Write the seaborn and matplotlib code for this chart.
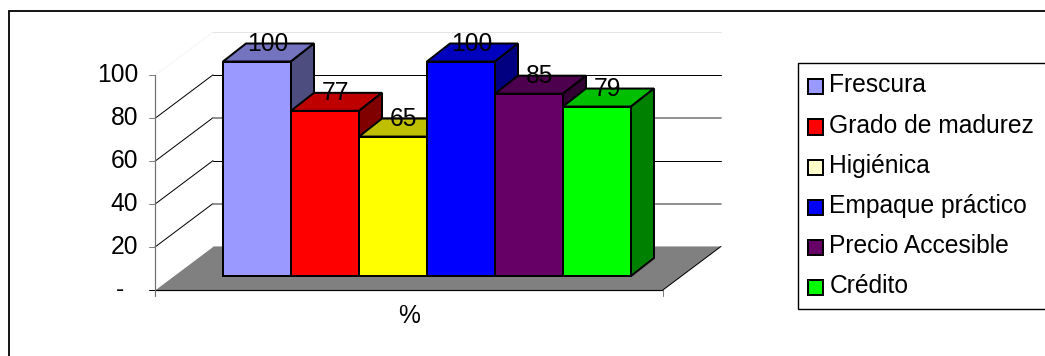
import matplotlib
matplotlib.use("Agg")
import matplotlib.pyplot as plt
import seaborn as sns
from matplotlib.colors import to_rgb
from matplotlib.patches import Patch, Polygon, Rectangle

# Chart values
categories = ["Frescura", "Grado de madurez", "Higiénica",
              "Empaque práctico", "Precio Accesible", "Crédito"]
values = [100, 77, 65, 100, 85, 79]
bar_colors = ["#9999FF", "#FF0000", "#FFFF00", "#0000FF", "#660066", "#00FF00"]
legend_colors = ["#9999FF", "#FF0000", "#FFFFCC", "#0000FF", "#660066", "#00FF00"]
y_ticks = [0, 20, 40, 60, 80, 100]
y_tick_labels = ["-", "20", "40", "60", "80", "100"]
grid_colors = ["#808080", "#808080", "#000000", "#808080", "#000000", "#E4E4E4"]
x_label = "%"

W, H = 1045, 356
X_UNIT, Y_UNIT = 68.0, 2.145          # pixels per category / per percent
X_ZERO, Y_ZERO = 257.0, 276.0         # pixel position of the first bar centre and its base

# Oblique projection of the chart box and the bars
BOX_LEFT, BOX_RIGHT = -1.5, 5.97
BOX_FLOOR = -6.5
BOX_DX, BOX_DY = 58 / X_UNIT, 43.5 / Y_UNIT
BAR_DX, BAR_DY = 23 / X_UNIT, 18 / Y_UNIT

FONT_SIZE = 17.7
PX = 0.72
EDGE = 2.0 * PX

sns.set_theme(style="white")
plt.rcParams["font.family"] = ["Liberation Sans", "DejaVu Sans"]

fig = plt.figure(figsize=(W / 100, H / 100), dpi=100, facecolor="white")
ax = fig.add_axes([0, 0, 1, 1])

sns.barplot(x=categories, y=values, hue=categories, palette=bar_colors,
            dodge=False, width=1.0, saturation=1, edgecolor="black",
            linewidth=EDGE, legend=False, ax=ax)

ax.set_xlim(-X_ZERO / X_UNIT, (W - X_ZERO) / X_UNIT)
ax.set_ylim((Y_ZERO - H) / Y_UNIT, Y_ZERO / Y_UNIT)
ax.axis("off")


def shade(color, factor):
    return tuple(c * factor for c in to_rgb(color))


# Floor of the chart box
ax.add_patch(Polygon(
    [(BOX_LEFT, BOX_FLOOR), (BOX_LEFT + BOX_DX, BOX_FLOOR + BOX_DY),
     (BOX_RIGHT + BOX_DX, BOX_FLOOR + BOX_DY), (BOX_RIGHT, BOX_FLOOR)],
    facecolor="#808080", edgecolor="none", zorder=1))
ax.plot([BOX_RIGHT, BOX_RIGHT + BOX_DX], [BOX_FLOOR, BOX_FLOOR + BOX_DY],
        color="black", lw=1 * PX, zorder=1.5)

# Walls: diagonal and horizontal gridlines, tick marks and labels
for tick, label, grid in zip(y_ticks, y_tick_labels, grid_colors):
    front = BOX_FLOOR + tick
    back = front + BOX_DY
    diag = "white" if tick == 0 else ("#E4E4E4" if tick == 100 else "black")
    ax.plot([BOX_LEFT, BOX_LEFT + BOX_DX], [front, back], color=diag,
            lw=1 * PX, ls=":" if tick == 100 else "-", zorder=1.5)
    if tick > 0:
        ax.plot([BOX_LEFT + BOX_DX, BOX_RIGHT + BOX_DX], [back, back], color=grid,
                lw=(1.7 if grid == "#808080" else 1) * PX, zorder=1.5)
    ax.plot([BOX_LEFT - 6 / X_UNIT, BOX_LEFT], [front, front],
            color="black" if tick == 0 else "#808080", lw=1 * PX, zorder=2)
    label_x = BOX_LEFT - (31 if tick == 0 else 17) / X_UNIT
    ax.text(label_x, front, label, ha="right", va="center", fontsize=FONT_SIZE,
            color="black", zorder=10)

# Front edge of the floor and axis lines
ax.plot([BOX_LEFT, BOX_RIGHT], [BOX_FLOOR, BOX_FLOOR], color="black", lw=1.2 * PX, zorder=2)
ax.plot([BOX_LEFT, BOX_LEFT], [BOX_FLOOR - 6 / Y_UNIT, BOX_FLOOR + 100],
        color="#707070", lw=1.2 * PX, zorder=2)
ax.plot([BOX_RIGHT, BOX_RIGHT], [BOX_FLOOR - 6 / Y_UNIT, BOX_FLOOR],
        color="#808080", lw=1 * PX, zorder=2)

# Top and side faces of every bar, then its value label
for i, (patch, color, value) in enumerate(zip(ax.patches, bar_colors, values)):
    left = patch.get_x()
    right = left + patch.get_width()
    base_z = 3 + i
    patch.set_zorder(base_z + 0.5)
    ax.add_patch(Polygon(
        [(left, value), (left + BAR_DX, value + BAR_DY),
         (right + BAR_DX, value + BAR_DY), (right, value)],
        facecolor=shade(color, 0.75), edgecolor="black",
        linewidth=EDGE, joinstyle="miter", zorder=base_z))
    ax.add_patch(Polygon(
        [(right, 0), (right + BAR_DX, BAR_DY),
         (right + BAR_DX, value + BAR_DY), (right, value)],
        facecolor=shade(color, 0.5), edgecolor="black",
        linewidth=EDGE, joinstyle="miter", zorder=base_z))
    ax.text(i + 0.16, value + 8.1, str(value), ha="center", va="center",
            fontsize=FONT_SIZE, color="black", zorder=12)

ax.text((BOX_LEFT + BOX_RIGHT) / 2, BOX_FLOOR - 12.0, x_label, ha="center", va="center",
        fontsize=FONT_SIZE, color="black", zorder=10)

# Legend box, running off the right edge of the figure
handles = [Patch(facecolor=c, edgecolor="black", linewidth=EDGE) for c in legend_colors]
legend = ax.legend(
    handles, categories, loc="upper left",
    bbox_to_anchor=(798 / W, 1 - 63 / H - 0.01, 300 / W, 0.01), bbox_transform=fig.transFigure,
    mode="expand", borderaxespad=0, fontsize=FONT_SIZE, frameon=True, fancybox=False,
    framealpha=1, facecolor="white", edgecolor="black", labelcolor="black",
    handlelength=0.58, handleheight=0.58,
    handletextpad=0.28, labelspacing=0.66, borderpad=0.42)
legend.get_frame().set_linewidth(1.4 * PX)
legend.set_zorder(20)
for handle in legend.legend_handles:
    handle.set_y(handle.get_y() - 2.2)

# Outer chart frame: only its top and left sides fall inside the figure
fig.add_artist(Rectangle((9 / W, -0.2), 1.2, 1.2 - 11 / H, transform=fig.transFigure,
                         facecolor="none", edgecolor="black", linewidth=1.8 * PX))

fig.savefig("out.png", dpi=100, facecolor="white")
